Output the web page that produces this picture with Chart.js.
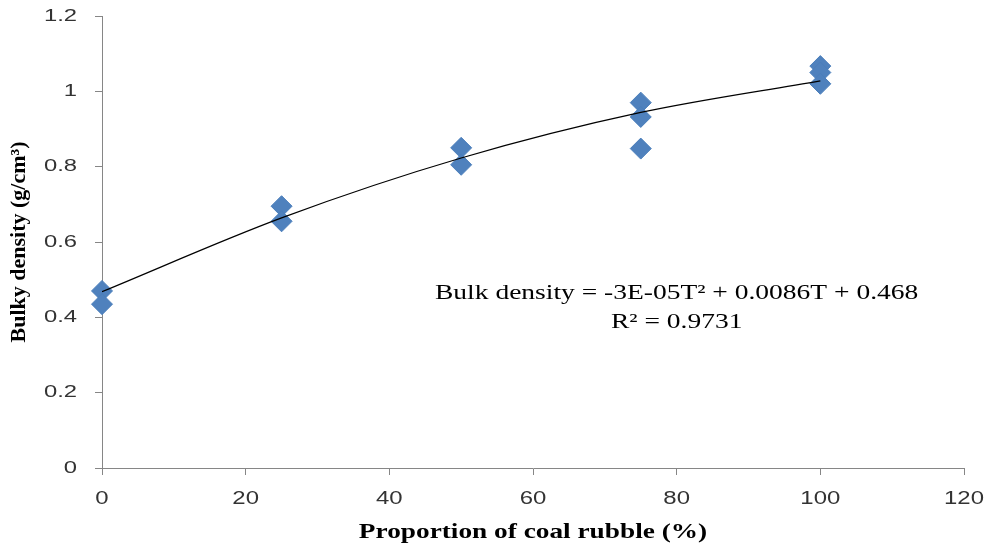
<!DOCTYPE html>
<html>
<head>
<meta charset="utf-8">
<script src="https://cdn.jsdelivr.net/npm/chart.js@4"></script>
<style>
  html, body { margin: 0; padding: 0; background: #fff; }
  #wrap { width: 991px; height: 546px; }
</style>
</head>
<body>
<div id="wrap"><canvas id="bulkChart"></canvas></div>
<script>
// measured points (proportion of coal rubble %, bulk density g/cm3)
const proportion = [0, 0, 25, 25, 50, 50, 75, 75, 75, 100, 100, 100];
const density = [0.47, 0.435, 0.695, 0.655, 0.85, 0.805, 0.97, 0.932, 0.848, 1.067, 1.05, 1.02];

// polynomial trendline
const trendX = [0, 25, 50, 75, 100];
const trendY = [0.468, 0.664, 0.823, 0.944, 1.028];

const xTicks = [0, 20, 40, 60, 80, 100, 120];
const yTicks = [0, 0.2, 0.4, 0.6, 0.8, 1, 1.2];

const xTitle = "Proportion of coal rubble (%)";
const yTitle = "Bulky density (g/cm\u00B3)";
const equationLines = ["Bulk density = -3E-05T\u00B2 + 0.0086T + 0.468", "R\u00B2 = 0.9731"];

const axisColor = "#868686";
const labelColor = "#333";

// the text in the original is stretched sideways, so draw it with a horizontal scale
function wideText(ctx, text, x, y, sx, align) {
  ctx.save();
  ctx.translate(x, y);
  ctx.scale(sx, 1);
  ctx.textAlign = align;
  ctx.textBaseline = "middle";
  ctx.fillText(text, 0, 0);
  ctx.restore();
}

const labelsPlugin = {
  id: "labels",
  afterDraw(chart) {
    const ctx = chart.ctx;
    const xs = chart.scales.x;
    const ys = chart.scales.y;
    ctx.save();
    ctx.fillStyle = labelColor;

    ctx.font = "17px 'Liberation Sans', Arial, sans-serif";
    yTicks.forEach((v) => {
      wideText(ctx, String(v), 77, ys.getPixelForValue(v), 1.4, "right");
    });

    ctx.font = "18px 'Liberation Sans', Arial, sans-serif";
    xTicks.forEach((v) => {
      wideText(ctx, String(v), xs.getPixelForValue(v), 499, 1.33, "center");
    });

    ctx.fillStyle = "#000";
    ctx.font = "bold 21px 'Liberation Serif', 'Times New Roman', serif";
    wideText(ctx, xTitle, (xs.left + xs.right) / 2, 533, 1.3, "center");

    ctx.font = "22px 'Liberation Serif', 'Times New Roman', serif";
    const ex = xs.getPixelForValue(80);
    wideText(ctx, equationLines[0], ex, ys.getPixelForValue(0.464), 1.25, "center");
    wideText(ctx, equationLines[1], ex, ys.getPixelForValue(0.388), 1.25, "center");
    ctx.restore();
  },
};

const ctx = document.getElementById("bulkChart").getContext("2d");

new Chart(ctx, {
  type: "scatter",
  data: {
    datasets: [
      {
        label: "Trend",
        type: "line",
        data: trendX.map((x, i) => ({ x: x, y: trendY[i] })),
        borderColor: "#000",
        borderWidth: 1.2,
        pointRadius: 0,
        fill: false,
        cubicInterpolationMode: "monotone",
        order: 1,
      },
      {
        label: "Bulk density",
        data: proportion.map((x, i) => ({ x: x, y: density[i] })),
        pointStyle: "rectRot",
        pointRadius: 10.5,
        pointHoverRadius: 10.5,
        backgroundColor: "#4F81BD",
        borderColor: "#4A7EBB",
        borderWidth: 1,
        clip: false,
        order: 2,
      },
    ],
  },
  options: {
    responsive: true,
    maintainAspectRatio: false,
    animation: false,
    layout: { padding: { top: 16, right: 27, left: 0, bottom: 0 } },
    plugins: {
      legend: { display: false },
      tooltip: { enabled: false },
    },
    scales: {
      x: {
        type: "linear",
        min: 0,
        max: 120,
        afterBuildTicks: (scale) => {
          scale.ticks = xTicks.map((v) => ({ value: v }));
        },
        afterFit: (scale) => {
          scale.height = 78;
        },
        grid: {
          display: true,
          drawOnChartArea: false,
          drawTicks: true,
          tickLength: 7,
          color: axisColor,
        },
        border: { color: axisColor, width: 1 },
        ticks: { display: false },
        title: { display: false },
      },
      y: {
        type: "linear",
        min: 0,
        max: 1.2,
        afterBuildTicks: (scale) => {
          scale.ticks = yTicks.map((v) => ({ value: v }));
        },
        afterFit: (scale) => {
          scale.width = 102;
        },
        grid: {
          display: true,
          drawOnChartArea: false,
          drawTicks: true,
          tickLength: 7,
          color: axisColor,
        },
        border: { color: axisColor, width: 1 },
        ticks: { display: false },
        title: {
          display: true,
          text: yTitle,
          color: "#000",
          padding: { top: 6, bottom: 0 },
          font: { family: "'Liberation Serif', 'Times New Roman', serif", size: 22, weight: "bold" },
        },
      },
    },
  },
  plugins: [labelsPlugin],
});
</script>
</body>
</html>
